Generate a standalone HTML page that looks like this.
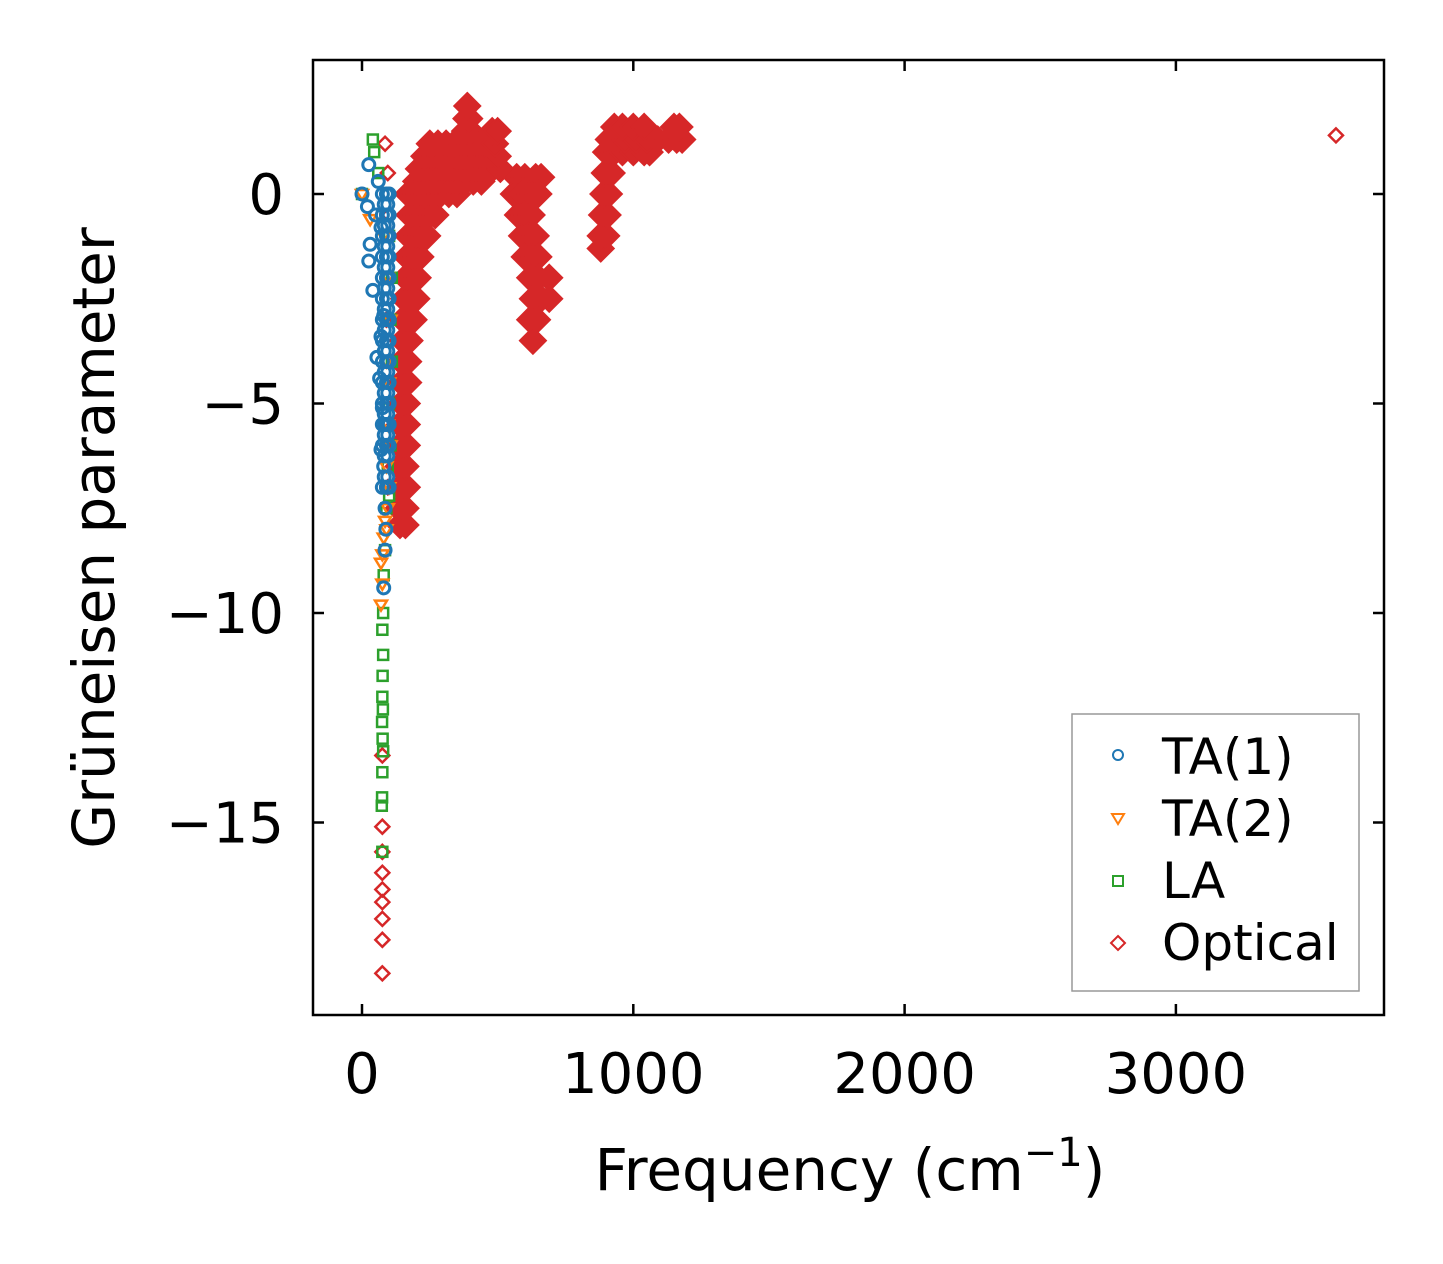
<!DOCTYPE html>
<html><head><meta charset="utf-8">
<style>
html,body{margin:0;padding:0;background:#fff;}
svg{display:block;font-family:"DejaVu Sans","Liberation Sans",sans-serif;}
</style></head>
<body>
<svg id="chart" width="1443" height="1264" viewBox="0 0 1443 1264" xmlns="http://www.w3.org/2000/svg">
<rect x="0" y="0" width="1443" height="1264" fill="#fff"/>
<g id="marks"></g>
<rect x="313" y="60" width="1071" height="955" fill="none" stroke="#000" stroke-width="2.5"/>
<g id="axes"></g>
<text x="850" y="1190" font-size="58" text-anchor="middle">Frequency (cm<tspan font-size="40" dy="-24">−1</tspan><tspan dy="24">)</tspan></text>
<text transform="translate(114,538) rotate(-90)" font-size="58" text-anchor="middle">Grüneisen parameter</text>
<g>
<rect x="1072" y="714" width="287" height="277" fill="#fff" stroke="#999" stroke-width="1.5"/>
<g><circle cx="1118" cy="755" r="5" fill="none" stroke="#1f77b4" stroke-width="2"/><text x="1162" y="774" font-size="50">TA(1)</text></g>
<g><path d="M1112,814 L1124,814 L1118,824 Z" fill="none" stroke="#ff7f0e" stroke-width="2"/><text x="1162" y="836" font-size="50">TA(2)</text></g>
<g><rect x="1113" y="876" width="10" height="10" fill="none" stroke="#2ca02c" stroke-width="2"/><text x="1162" y="898" font-size="50">LA</text></g>
<g><path d="M1118,936 L1125,943 L1118,950 L1111,943 Z" fill="none" stroke="#d62728" stroke-width="2"/><text x="1162" y="960" font-size="50">Optical</text></g>
</g>
</svg>
<script>
const xTicks = [0, 1000, 2000, 3000];
const yTicks = [0, -5, -10, -15];
const ta1Freq  = [0,25,20,30,25,40,50,60,70,55,70,80,65,75,85,70,80,90,85,88,85,80,75,90,100,75,90,100,75,90,100,75,90,100,75,90,100,75,90,100,75,90,100,75,90,100,75,90,100,75,90,100,75,90,100,75,90,100,75,90,100,75,90,100,82,95,82,95,82,95,82,95,82,95,82,95,82,95,82,95,82,95,82,95,82,95,82,95,82,95,82,95];
const ta1Gamma = [0,0.7,-0.3,-1.2,-1.6,-2.3,-0.5,0.3,-0.8,-3.9,-3.4,-2.9,-4.4,-5.1,-5.5,-6.1,-6.5,-7.0,-7.5,-8.0,-8.5,-9.4,0,0,0,-0.5,-0.5,-0.5,-1,-1,-1,-1.5,-1.5,-1.5,-2,-2,-2,-2.5,-2.5,-2.5,-3,-3,-3,-3.5,-3.5,-3.5,-4,-4,-4,-4.5,-4.5,-4.5,-5,-5,-5,-5.5,-5.5,-5.5,-6,-6,-6,-7,-7,-7,-0.25,-0.25,-0.75,-0.75,-1.25,-1.25,-1.75,-1.75,-2.25,-2.25,-2.75,-2.75,-3.25,-3.25,-3.75,-3.75,-4.25,-4.25,-4.75,-4.75,-5.25,-5.25,-5.75,-5.75,-6.25,-6.25,-6.75,-6.75,-7.25,-7.25];
const ta2Freq  = [0,30,80,95,105,90,100,95,105,90,100,95,85,90,80,75,70,75,70];
const ta2Gamma = [0,-0.6,-1,-2,-3,-4,-4.5,-5.5,-6,-6.5,-7,-7.5,-7.8,-8.0,-8.2,-8.6,-8.8,-9.3,-9.8];
const laFreq  = [40,45,60,0,100,110,105,110,100,105,95,100,90,85,80,78,75,78,76,75,77,74,76,78,75,74,73,75];
const laGamma = [1.3,1.0,0.5,0,-1,-2,-3,-4,-5,-6,-6.5,-7.2,-7.5,-8.5,-9.1,-10.0,-10.4,-11.0,-11.5,-12.0,-12.3,-12.6,-13.0,-13.3,-13.8,-14.4,-14.6,-15.7];
const optFreq = [
140,160, 135,160, 140,165, 135,160, 140,165, 140,165, 145,165, 145,170, 145,170, 150,175,
150,175,190, 155,180,200, 160,185,205, 165,190,215, 170,195,220,240, 175,200,225,250,270,
170,200,230,260,290,320,350, 200,230,260,290,320,350,380,410,440,
210,240,270,300,330,360,390,420,450,480,510, 230,260,290,320,350,380,410,440,470,500,
250,280,310,340,370,400,430,460,490, 380,400,480,500, 385,395, 388,
85,95,100,90,100,95,
75,75,75,75,75,75,75,75,75,
570,600,640,660, 560,590,620,650, 575,600,625, 590,615,640, 600,625,650, 620,650,690, 630,660,690, 620,645, 630,
880, 880,900, 885,905, 890,910, 895,920, 900,930,960,1000,1040,1060, 910,940,970,1010,1050,1090,1130,1160,1180, 930,960,1000,1040,1150,1170,
3590];
const optGamma = [
-7.9,-7.9, -7.5,-7.5, -7,-7, -6.5,-6.5, -6,-6, -5.5,-5.5, -5,-5, -4.5,-4.5, -4,-4, -3.5,-3.5,
-3,-3,-3, -2.5,-2.5,-2.5, -2,-2,-2, -1.5,-1.5,-1.5, -1,-1,-1,-1, -0.5,-0.5,-0.5,-0.5,-0.5,
0,0,0,0,0,0,0, 0.3,0.3,0.3,0.3,0.3,0.3,0.3,0.3,0.3,
0.6,0.6,0.6,0.6,0.6,0.6,0.6,0.6,0.6,0.6,0.6, 0.9,0.9,0.9,0.9,0.9,0.9,0.9,0.9,0.9,0.9,
1.2,1.2,1.2,1.2,1.2,1.2,1.2,1.2,1.2, 1.5,1.5,1.5,1.5, 1.8,1.8, 2.1,
1.2,0.5,-0.5,-3,-6,-7,
-13.4,-15.1,-15.7,-16.2,-16.6,-16.9,-17.3,-17.8,-18.6,
0.4,0.4,0.4,0.4, 0,0,0,0, -0.5,-0.5,-0.5, -1,-1,-1, -1.5,-1.5,-1.5, -2,-2,-2, -2.5,-2.5,-2.5, -3,-3, -3.5,
-1.3, -1,-1, -0.5,-0.5, 0,0, 0.5,0.5, 1,1,1,1,1,1, 1.3,1.3,1.3,1.3,1.3,1.3,1.3,1.3,1.3, 1.6,1.6,1.6,1.6,1.6,1.6,
1.4];

const X0 = 362, XS = 0.2713, Y0 = 194, YS = 41.9;
function xScale(f){ return X0 + f * XS; }
function yScale(g){ return Y0 - g * YS; }
const NS = 'http://www.w3.org/2000/svg';
const marks = document.getElementById('marks');
const axes = document.getElementById('axes');

function mk(tag, attrs){ const e = document.createElementNS(NS, tag); for (const k in attrs) e.setAttribute(k, attrs[k]); return e; }

for (let i = 0; i < optFreq.length; i++) {
  const x = xScale(optFreq[i]), y = yScale(optGamma[i]);
  const dense = optGamma[i] > -12 && optFreq[i] > 100 && optFreq[i] < 3000;
  const h = dense ? 13 : 7;
  const p = mk('path', {d:`M${x},${y-h} L${x+h},${y} L${x},${y+h} L${x-h},${y} Z`, fill: dense ? '#d62728' : 'none', stroke:'#d62728', 'stroke-width': dense ? 2 : 2.5});
  
  
  marks.appendChild(p);
}
for (let i = 0; i < laFreq.length; i++) {
  const x = xScale(laFreq[i]), y = yScale(laGamma[i]);
  const r = mk('rect', {x:x-5, y:y-5, width:10, height:10, fill:'none', stroke:'#2ca02c', 'stroke-width':2.5});
  
  
  marks.appendChild(r);
}
for (let i = 0; i < ta2Freq.length; i++) {
  const x = xScale(ta2Freq[i]), y = yScale(ta2Gamma[i]);
  const p = mk('path', {d:`M${x-6},${y-4} L${x+6},${y-4} L${x},${y+6} Z`, fill:'none', stroke:'#ff7f0e', 'stroke-width':2.5});
  
  
  marks.appendChild(p);
}
for (let i = 0; i < ta1Freq.length; i++) {
  const c = mk('circle', {cx:xScale(ta1Freq[i]), cy:yScale(ta1Gamma[i]), r:6, fill:'none', stroke:'#1f77b4', 'stroke-width':3});
  
  
  marks.appendChild(c);
}

xTicks.forEach(v => {
  const x = xScale(v);
  const t1 = mk('line', {x1:x, y1:1015, x2:x, y2:1004, stroke:'#000', 'stroke-width':2.5});
  
  
  axes.appendChild(t1);
  const t2 = mk('line', {x1:x, y1:60, x2:x, y2:71, stroke:'#000', 'stroke-width':2.5});
  
  
  axes.appendChild(t2);
  const l = mk('text', {x:x, y:1093, 'font-size':56, 'text-anchor':'middle'});
  l.textContent = String(v);
  
  
  axes.appendChild(l);
});
yTicks.forEach(v => {
  const y = yScale(v);
  const t1 = mk('line', {x1:313, y1:y, x2:324, y2:y, stroke:'#000', 'stroke-width':2.5});
  
  
  axes.appendChild(t1);
  const t2 = mk('line', {x1:1384, y1:y, x2:1373, y2:y, stroke:'#000', 'stroke-width':2.5});
  
  
  axes.appendChild(t2);
  const l = mk('text', {x:284, y:y+20, 'font-size':56, 'text-anchor':'end'});
  l.textContent = v < 0 ? '\u2212' + Math.abs(v) : String(v);
  
  
  axes.appendChild(l);
});
</script>
</body></html>
